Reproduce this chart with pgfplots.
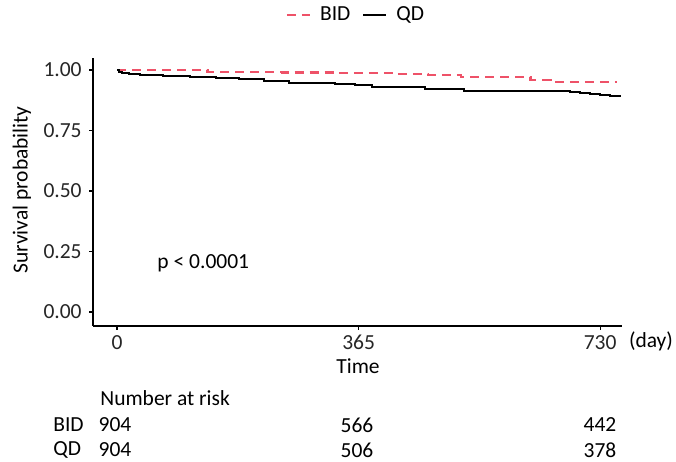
\documentclass[border=0pt]{standalone}
\usepackage{fontspec}
\setmainfont{Carlito}
\usepackage{pgfplots}
\pgfplotsset{compat=1.18}
\definecolor{bidred}{RGB}{238,82,104}
\pgfplotstableread{
day surv
0 1.000
137 0.993
250 0.990
330 0.987
420 0.983
470 0.979
520 0.971
625 0.960
655 0.950
756 0.950
}\bidtable
\pgfplotstableread{
day surv
0 1.000
3 0.994
8 0.988
18 0.984
35 0.980
70 0.976
110 0.971
150 0.967
185 0.962
222 0.956
260 0.948
330 0.944
360 0.940
385 0.929
465 0.922
525 0.913
685 0.910
700 0.906
715 0.901
730 0.897
745 0.892
760 0.890
}\qdtable
\begin{document}
\fontsize{21.5}{25}\selectfont
\begin{tikzpicture}
\path[use as bounding box] (0pt,0pt) rectangle (676pt,462pt);
\begin{axis}[
  at={(93pt,136pt)}, anchor=south west,
  scale only axis, width=529pt, height=268pt,
  xmin=-36.3, xmax=763, ymin=-0.058, ymax=1.05,
  axis lines=left, axis line style={-, line width=1.5pt, black},
  tick align=outside, major tick length=4pt,
  tick style={line width=1.2pt, black},
  xtick={0,365,730}, ytick={0,0.25,0.5,0.75,1},
  yticklabel style={/pgf/number format/.cd,fixed,fixed zerofill,precision=2},
  xticklabel style={yshift=2pt},
  /pgf/number format/assume math mode=true,
  ticklabel style={font=\fontsize{21.5}{25}\selectfont, text=black!85},
  clip=false,
  legend columns=2,
  legend style={at={(0.497,1.16)}, anchor=center, draw=none, fill=none,
    font=\fontsize{21.5}{25}\selectfont,
    /tikz/every odd column/.append style={column sep=7pt},
    /tikz/every even column/.append style={column sep=10pt}},
  legend image code/.code={\draw[#1] (0pt,0pt) -- (23pt,0pt);},
]
\addplot[const plot, color=bidred, line width=2.4pt, dash pattern=on 9pt off 6pt] table[x=day,y=surv] {\bidtable};
\addlegendentry{BID}
\addplot[const plot, color=black, line width=2pt] table[x=day,y=surv] {\qdtable};
\addlegendentry{QD}
\node[anchor=west] at (axis cs:50,0.203) {p < 0.0001};
\end{axis}
\node at (358pt,96pt) {Time};
\node at (651pt,121pt) {(day)};
\node[rotate=90] at (22pt,272pt) {Survival probability};
\node[anchor=west] at (93pt,64pt) {Number at risk};
\node[anchor=west] at (46pt,37pt) {BID};
\node[anchor=west] at (46pt,12pt) {QD};
\node at (115pt,37pt) {904};
\node at (357pt,37pt) {566};
\node at (600pt,37pt) {442};
\node at (115pt,12pt) {904};
\node at (357pt,12pt) {506};
\node at (600pt,12pt) {378};
\end{tikzpicture}
\end{document}
